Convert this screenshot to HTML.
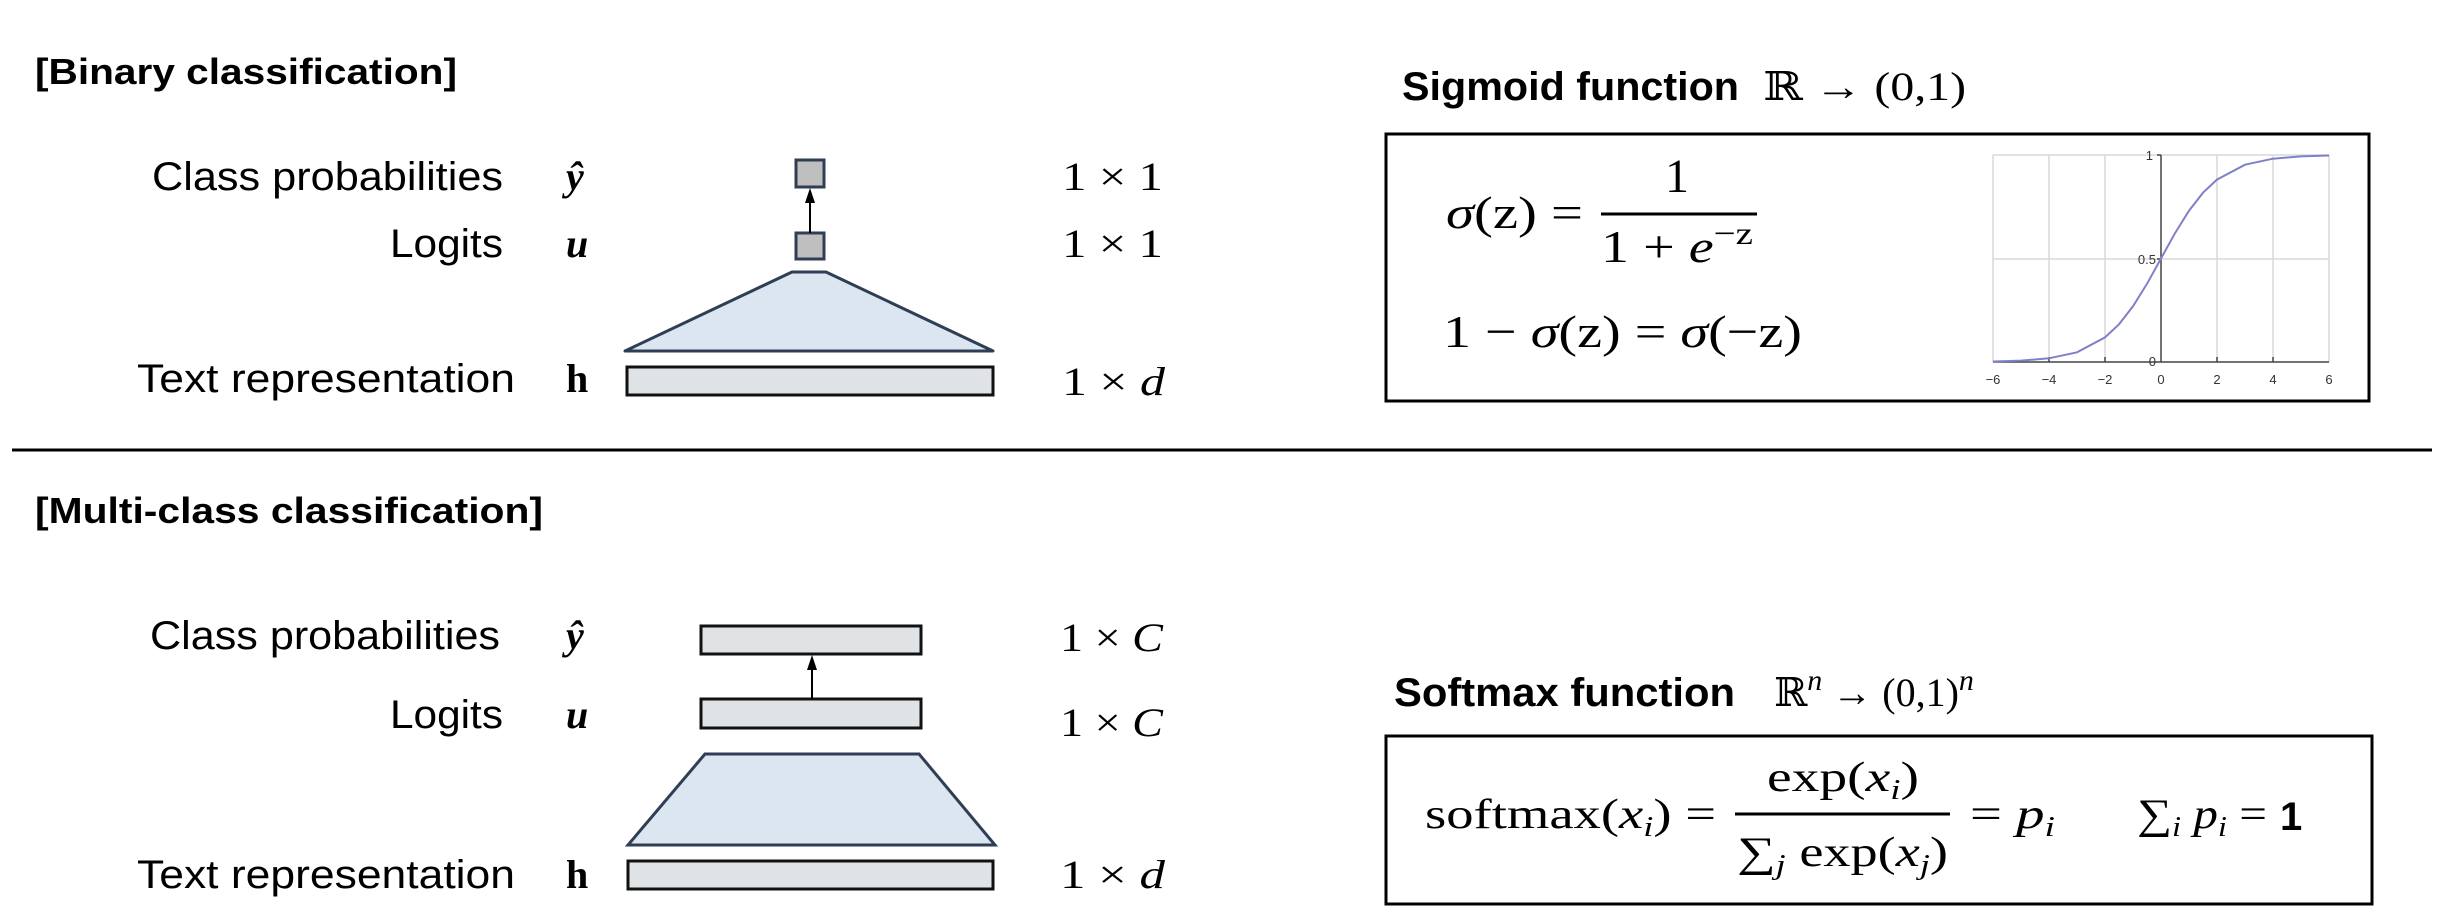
<!DOCTYPE html>
<html><head><meta charset="utf-8"><style>html,body{margin:0;padding:0;background:#fff}svg{display:block}</style></head>
<body>
<svg width="2448" height="922" viewBox="0 0 2448 922" xmlns="http://www.w3.org/2000/svg">
<g font-family="Liberation Sans, sans-serif" fill="#000">
<text x="35" y="84" font-size="36" font-weight="bold" textLength="422" lengthAdjust="spacingAndGlyphs">[Binary classification]</text>
<text x="152" y="190" font-size="40" textLength="351" lengthAdjust="spacingAndGlyphs">Class probabilities</text>
<text x="390" y="257" font-size="40" textLength="113" lengthAdjust="spacingAndGlyphs">Logits</text>
<text x="137" y="392" font-size="40" textLength="378" lengthAdjust="spacingAndGlyphs">Text representation</text>
<text x="35" y="523" font-size="36" font-weight="bold" textLength="508" lengthAdjust="spacingAndGlyphs">[Multi-class classification]</text>
<text x="150" y="649" font-size="40" textLength="350" lengthAdjust="spacingAndGlyphs">Class probabilities</text>
<text x="390" y="728" font-size="40" textLength="113" lengthAdjust="spacingAndGlyphs">Logits</text>
<text x="137" y="888" font-size="40" textLength="378" lengthAdjust="spacingAndGlyphs">Text representation</text>
<text x="1402" y="100" font-size="40" font-weight="bold" textLength="337" lengthAdjust="spacingAndGlyphs">Sigmoid function</text>
<text x="1394" y="706" font-size="40" font-weight="bold" textLength="341" lengthAdjust="spacingAndGlyphs">Softmax function</text>
<text x="2280" y="830" font-size="40" font-weight="bold">1</text>
</g>
<g font-family="Liberation Serif, DejaVu Serif, serif" fill="#000">
<text x="566" y="190" font-size="40" font-style="italic" font-weight="bold">ŷ</text>
<text x="566" y="257" font-size="40" font-style="italic" font-weight="bold">u</text>
<text x="566" y="392" font-size="40" font-weight="bold">h</text>
<text x="566" y="649" font-size="40" font-style="italic" font-weight="bold">ŷ</text>
<text x="566" y="728" font-size="40" font-style="italic" font-weight="bold">u</text>
<text x="566" y="888" font-size="40" font-weight="bold">h</text>
<g font-size="40">
<text x="1062" y="190" textLength="101" lengthAdjust="spacingAndGlyphs">1 × 1</text>
<text x="1062" y="257" textLength="101" lengthAdjust="spacingAndGlyphs">1 × 1</text>
<text x="1062" y="395" textLength="103" lengthAdjust="spacingAndGlyphs">1 × <tspan font-style="italic">d</tspan></text>
<text x="1060" y="651" textLength="103" lengthAdjust="spacingAndGlyphs">1 × <tspan font-style="italic">C</tspan></text>
<text x="1060" y="736" textLength="103" lengthAdjust="spacingAndGlyphs">1 × <tspan font-style="italic">C</tspan></text>
<text x="1060" y="888" textLength="105" lengthAdjust="spacingAndGlyphs">1 × <tspan font-style="italic">d</tspan></text>
</g>
<text x="1763" y="100" font-size="40" textLength="203" lengthAdjust="spacingAndGlyphs">ℝ → (0,1)</text>
<text x="1774" y="706" font-size="40">ℝ<tspan font-style="italic" font-size="30" dy="-16">n</tspan><tspan dy="16"> → (0,1)</tspan><tspan font-style="italic" font-size="30" dy="-16">n</tspan></text>
<text x="1446" y="228" font-size="46" textLength="137" lengthAdjust="spacingAndGlyphs"><tspan font-style="italic">σ</tspan>(z) =</text>
<text x="1677" y="192" font-size="48" text-anchor="middle">1</text>
<line x1="1601" y1="214" x2="1757" y2="214" stroke="#000" stroke-width="3"/>
<text x="1601" y="262" font-size="46" textLength="152" lengthAdjust="spacingAndGlyphs">1 + <tspan font-style="italic">e</tspan><tspan font-size="32" dy="-18">−z</tspan></text>
<text x="1443" y="347" font-size="46" textLength="359" lengthAdjust="spacingAndGlyphs">1 − <tspan font-style="italic">σ</tspan>(z) = <tspan font-style="italic">σ</tspan>(−z)</text>
<text x="1425" y="828" font-size="42" textLength="291" lengthAdjust="spacingAndGlyphs">softmax(<tspan font-style="italic">x</tspan><tspan font-style="italic" font-size="28" dy="8">i</tspan><tspan dy="-8">) =</tspan></text>
<text x="1767" y="791" font-size="42" textLength="152" lengthAdjust="spacingAndGlyphs">exp(<tspan font-style="italic">x</tspan><tspan font-style="italic" font-size="28" dy="8">i</tspan><tspan dy="-8">)</tspan></text>
<line x1="1735" y1="814" x2="1950" y2="814" stroke="#000" stroke-width="3"/>
<text x="1737" y="866" font-size="42" textLength="211" lengthAdjust="spacingAndGlyphs">∑<tspan font-style="italic" font-size="28" dy="8">j</tspan><tspan dy="-8"> exp(</tspan><tspan font-style="italic">x</tspan><tspan font-style="italic" font-size="28" dy="8">j</tspan><tspan dy="-8">)</tspan></text>
<text x="1970" y="828" font-size="42" textLength="85" lengthAdjust="spacingAndGlyphs">= <tspan font-style="italic">p</tspan><tspan font-style="italic" font-size="28" dy="8">i</tspan></text>
<text x="2137" y="828" font-size="42" textLength="130" lengthAdjust="spacingAndGlyphs">∑<tspan font-style="italic" font-size="28" dy="8">i</tspan><tspan dy="-8"> </tspan><tspan font-style="italic">p</tspan><tspan font-style="italic" font-size="28" dy="8">i</tspan><tspan dy="-8"> =</tspan></text>
</g>
<g stroke="#2f3e55" stroke-width="3">
<rect x="796" y="160" width="28" height="27" fill="#bfbfbf"/>
<rect x="796" y="233" width="28" height="26" fill="#bfbfbf"/>
<path d="M792,272 L826,272 L993,351 L625,351 Z" fill="#dce6f1" stroke-linejoin="round"/>
<path d="M705,754 L919,754 L995,845 L628,845 Z" fill="#dce6f1"/>
</g>
<g stroke="#111" stroke-width="3" fill="#e0e3e6">
<rect x="627" y="367" width="366" height="28"/>
<rect x="701" y="626" width="220" height="28"/>
<rect x="701" y="699" width="220" height="29"/>
<rect x="628" y="861" width="365" height="28"/>
</g>
<line x1="810" y1="233" x2="810" y2="200" stroke="#000" stroke-width="2"/>
<polygon points="810,188 805,203 815,203" fill="#000"/>
<line x1="812" y1="699" x2="812" y2="666" stroke="#000" stroke-width="2"/>
<polygon points="812,655 807,670 817,670" fill="#000"/>
<line x1="12" y1="450" x2="2432" y2="450" stroke="#000" stroke-width="3"/>
<rect x="1386" y="134" width="983" height="267" fill="none" stroke="#000" stroke-width="3"/>
<rect x="1386" y="736" width="986" height="168" fill="none" stroke="#000" stroke-width="3"/>
<g stroke="#d8d8d8" stroke-width="1.5">
<line x1="1993" y1="155" x2="1993" y2="362"/><line x1="2049" y1="155" x2="2049" y2="362"/>
<line x1="2105" y1="155" x2="2105" y2="362"/><line x1="2217" y1="155" x2="2217" y2="362"/>
<line x1="2273" y1="155" x2="2273" y2="362"/><line x1="2329" y1="155" x2="2329" y2="362"/>
<line x1="1993" y1="155" x2="2329" y2="155"/><line x1="1993" y1="259" x2="2329" y2="259"/>
</g>
<g stroke="#444" stroke-width="1.5">
<line x1="2161" y1="155" x2="2161" y2="362"/><line x1="1993" y1="362" x2="2329" y2="362"/>
<line x1="2049" y1="357" x2="2049" y2="362"/><line x1="2105" y1="357" x2="2105" y2="362"/>
<line x1="2217" y1="357" x2="2217" y2="362"/><line x1="2273" y1="357" x2="2273" y2="362"/>
<line x1="2157" y1="155" x2="2161" y2="155"/><line x1="2157" y1="259" x2="2161" y2="259"/>
</g>
<path d="M1993,361.5 L2021,360.6 L2049,358.3 L2077,352.3 L2105,337.4 L2119,324.3 L2133,306.3 L2147,283.8 L2161,258.5 L2175,233.2 L2189,210.7 L2203,192.7 L2217,179.6 L2245,164.7 L2273,158.7 L2301,156.4 L2329,155.5" fill="none" stroke="#8080c8" stroke-width="2"/>
<g font-family="Liberation Sans, sans-serif" font-size="13" fill="#333" text-anchor="middle">
<text x="1993" y="384">−6</text><text x="2049" y="384">−4</text><text x="2105" y="384">−2</text>
<text x="2161" y="384">0</text><text x="2217" y="384">2</text><text x="2273" y="384">4</text><text x="2329" y="384">6</text>
<text x="2153" y="160" text-anchor="end">1</text><text x="2156" y="264" text-anchor="end">0.5</text><text x="2156" y="366" text-anchor="end">0</text>
</g>
</svg>
</body></html>
